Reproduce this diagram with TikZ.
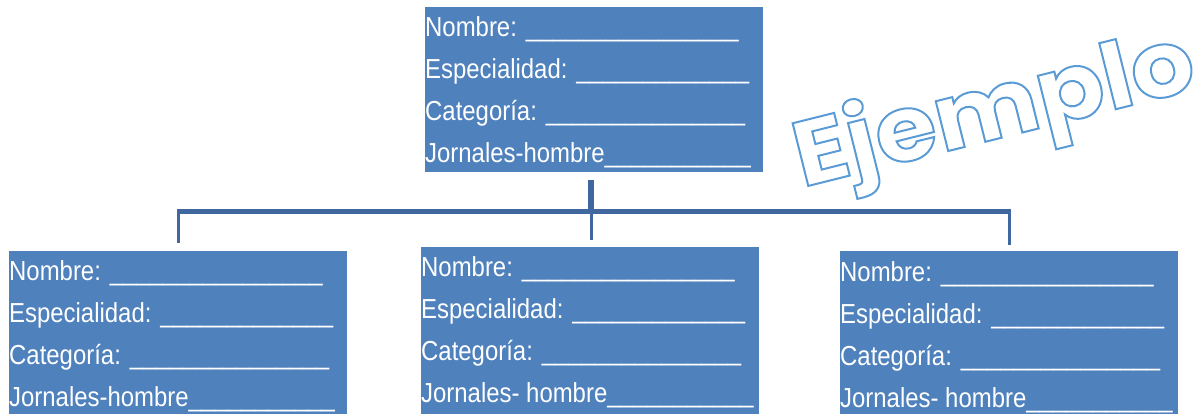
\documentclass[tikz,border=0pt]{standalone}
\usepackage{fontspec}
\setmainfont[FakeStretch=0.87]{Liberation Sans}
\newfontfamily\ejfont[FakeStretch=1.08]{Poppins}
\definecolor{boxblue}{HTML}{4F81BD}
\definecolor{linkblue}{RGB}{64,104,158}
\definecolor{ejblue}{HTML}{5B9BD5}
\newcommand{\outlinetext}[1]{\special{pdf:literal direct 1 Tr 2 w}#1\special{pdf:literal direct 0 Tr}}
\tikzset{
  card/.style={rectangle, fill=boxblue, draw=none, anchor=north west,
    minimum width=338pt, minimum height=170pt, inner sep=0pt, outer sep=0pt},
  cardtext/.style={anchor=north west, inner sep=0pt, align=left, text=white,
    font=\fontsize{27.5}{42}\selectfont},
  stub/.style={draw=linkblue, line width=6pt},
  busline/.style={draw=linkblue, line width=5pt},
  drop/.style={draw=linkblue, line width=3pt}
}
\newcommand{\cardlines}[1]{Nombre: \_\_\_\_\_\_\_\_\_\_\_\_\_\_\_\_\\
Especialidad: \_\_\_\_\_\_\_\_\_\_\_\_\_\\
Categoría: \_\_\_\_\_\_\_\_\_\_\_\_\_\_\_\\
#1\_\_\_\_\_\_\_\_\_\_\_}
\begin{document}
\begin{tikzpicture}[x=1pt,y=-1pt]
\useasboundingbox (0,0) rectangle (1197,413);
\clip (0,0) rectangle (1197,413);
% boxes
\node[card, minimum height=165pt] (top) at (425,7) {};
\node[card] (lft) at (9,251) {};
\node[card] (mid) at (421,247) {};
\node[card] (rgt) at (840,251) {};
% texts
\node[cardtext] (ttop) at (425,16) {\cardlines{Jornales-hombre}};
\node[cardtext] (tlft) at (9,260) {\cardlines{Jornales-hombre}};
\node[cardtext] (tmid) at (421,256) {\cardlines{Jornales- hombre}};
\node[cardtext] (trgt) at (840,261) {\cardlines{Jornales- hombre}};
% connectors
\coordinate (bus) at (591,211);
\draw[stub] (591,180) -- (bus);
\draw[busline] ([xshift=-1.5pt]lft.north |- bus) -- ([xshift=1.5pt]rgt.north |- bus);
\draw[drop] (lft.north |- bus) -- ([yshift=8pt]lft.north);
\draw[drop] (bus) -- (591,240);
\draw[drop] (rgt.north |- bus) -- ([yshift=6pt]rgt.north);
% watermark
\node[rotate=14, inner sep=0pt, text=ejblue, font=\ejfont\bfseries\fontsize{92}{92}\selectfont] (ej) at (995,114)
  {\outlinetext{Ejemplo}};
\end{tikzpicture}
\end{document}
